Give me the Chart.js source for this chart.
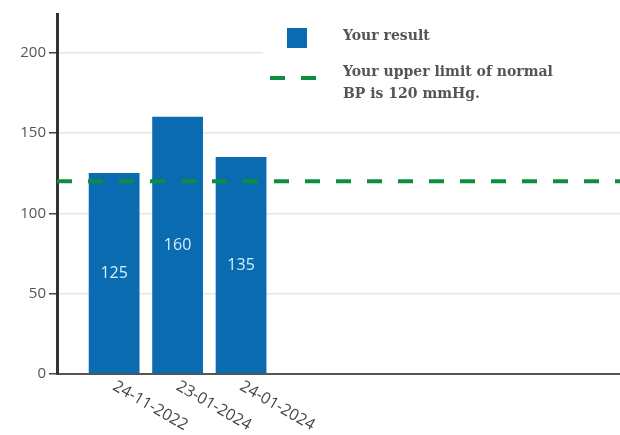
<!DOCTYPE html>
<html>
<head>
<meta charset="utf-8">
<script src="https://cdn.jsdelivr.net/npm/chart.js@4.4.1/dist/chart.umd.min.js"></script>
<style>
  body { margin: 0; background: #fff; }
  #wrap { width: 620px; height: 435px; position: relative; }
</style>
</head>
<body>
<div id="wrap"><canvas id="bpChart"></canvas></div>
<script>
// values
const dates = ["24-11-2022", "23-01-2024", "24-01-2024"];
const results = [125, 160, 135];
const upperLimit = 120;
const yTicks = [0, 50, 100, 150, 200];
const legendLabels = ["Your result", "Your upper limit of normal", "BP is 120 mmHg."];

// x range leaves room for the empty part on the right
const xMin = -0.9;
const xMax = 7.97;

const barBlue = "#0a6bb1";
const limitGreen = "#0b8f3c";

// value printed in the middle of each bar
const barValues = {
  id: "barValues",
  afterDatasetsDraw(chart) {
    const ctx = chart.ctx;
    const meta = chart.getDatasetMeta(0);
    ctx.save();
    ctx.fillStyle = "#d4eefb";
    ctx.font = "16px 'Open Sans'";
    ctx.textAlign = "center";
    ctx.textBaseline = "middle";
    meta.data.forEach((bar, i) => {
      ctx.fillText(results[i], bar.x, (bar.y + bar.base) / 2);
    });
    ctx.restore();
  }
};

// dates slanted downwards under the bars
const slantedDates = {
  id: "slantedDates",
  afterDraw(chart) {
    const ctx = chart.ctx;
    const xs = chart.scales.x;
    ctx.save();
    ctx.fillStyle = "#444";
    ctx.font = "16px 'Open Sans'";
    ctx.textAlign = "left";
    ctx.textBaseline = "top";
    dates.forEach((d, i) => {
      ctx.save();
      ctx.translate(xs.getPixelForValue(i) + 4, xs.top + 4);
      ctx.rotate(Math.PI / 6);
      ctx.fillText(d, 0, 0);
      ctx.restore();
    });
    ctx.restore();
  }
};

// legend sits on a white box inside the plot
const boxLegend = {
  id: "boxLegend",
  beforeDatasetsDraw(chart) {
    const ctx = chart.ctx;
    const area = chart.chartArea;
    ctx.save();
    ctx.fillStyle = "#fff";
    ctx.fillRect(263, area.top, area.right - 263, 98);

    ctx.fillStyle = barBlue;
    ctx.fillRect(287, 28, 20, 20);

    ctx.strokeStyle = limitGreen;
    ctx.lineWidth = 4;
    ctx.setLineDash([15, 16]);
    ctx.beginPath();
    ctx.moveTo(270, 78);
    ctx.lineTo(318, 78);
    ctx.stroke();

    ctx.fillStyle = "#555";
    ctx.font = "bold 14px 'DejaVu Serif'";
    ctx.textBaseline = "middle";
    ctx.fillText(legendLabels[0], 343, 36);
    ctx.fillText(legendLabels[1], 343, 72);
    ctx.fillText(legendLabels[2], 343, 94);
    ctx.restore();
  }
};

window.onload = () => {
  new Chart(document.getElementById("bpChart"), {
    type: "bar",
    data: {
      datasets: [
        {
          label: legendLabels[0],
          data: results.map((v, i) => ({ x: i, y: v })),
          backgroundColor: barBlue,
          categoryPercentage: 1,
          barPercentage: 0.8,
          order: 1
        },
        {
          type: "line",
          label: legendLabels[1],
          data: [{ x: xMin, y: upperLimit }, { x: xMax, y: upperLimit }],
          borderColor: limitGreen,
          borderWidth: 4,
          borderDash: [15, 16],
          pointRadius: 0,
          order: 0
        }
      ]
    },
    options: {
      responsive: true,
      maintainAspectRatio: false,
      animation: false,
      layout: { padding: { top: 14, right: 0, left: 0, bottom: 0 } },
      plugins: {
        legend: { display: false },
        tooltip: { enabled: false }
      },
      scales: {
        x: {
          type: "linear",
          min: xMin,
          max: xMax,
          offset: false,
          afterBuildTicks: (s) => {
            s.ticks = dates.map((d, i) => ({ value: i }));
          },
          grid: { display: false, drawTicks: false },
          border: { color: "#555", width: 2 },
          ticks: { display: false },
          afterFit: (s) => { s.height = 61; }
        },
        y: {
          min: 0,
          max: 224,
          afterBuildTicks: (s) => {
            s.ticks = yTicks.map((v) => ({ value: v }));
          },
          grid: { color: "#e6e6e6", lineWidth: 1.5, tickColor: "#444", tickLength: 8 },
          border: { color: "#333", width: 3 },
          ticks: {
            color: "#555",
            padding: 3,
            font: { family: "'Open Sans'", size: 15 }
          },
          afterFit: (s) => { s.width = 57; }
        }
      }
    },
    plugins: [barValues, slantedDates, boxLegend]
  });
};
</script>
</body>
</html>
